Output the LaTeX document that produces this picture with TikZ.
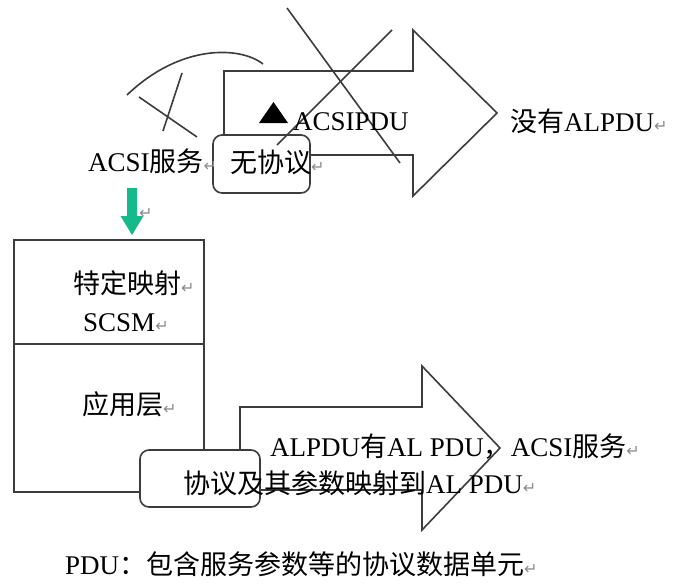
\documentclass[tikz,border=0pt]{standalone}
\usepackage{fontspec}
\setmainfont{Liberation Serif}
\newfontfamily\cjk{Noto Sans CJK SC}
\newfontfamily\dejavu{DejaVu Sans}
\newcommand\zh[1]{{\cjk #1}}
\newcommand\pmk{{\dejavu\fontsize{16}{16}\selectfont\color{black!45}↵}}
\definecolor{lineg}{RGB}{60,60,60}
\definecolor{greenarrow}{RGB}{22,186,138}
\begin{document}
\begin{tikzpicture}[x=1pt,y=-1pt,
  txt/.style={anchor=west,inner sep=0pt,font=\fontsize{27}{30}\selectfont},
  ln/.style={draw=lineg,line width=1.6pt,line join=miter},
  rbox/.style={draw=lineg,line width=1.6pt,fill=white,rounded corners=9pt}]
\useasboundingbox (0,0) rectangle (676,583);
\fill[white] (0,0) rectangle (676,583);

% --- top part ---
\draw[ln] (127,95) .. controls (180,44) and (240,46) .. (263,64);
\draw[ln] (182,73) -- (163,131);
\draw[ln] (139,97) -- (197,137);

\coordinate (tA) at (224,135);
\draw[ln] (tA) -- (224,71) -- (413,71) -- (413,30) -- (497,113) -- (413,196) -- (413,155) -- (310,155);

\draw[rbox] (213,135) rectangle (310,193);
\node[inner sep=0pt] (wxbox) at (261.5,164) {};

\draw[ln] (287,8) -- (400,163);
\draw[ln] (392,30) -- (277,145);

\fill[black] (259,123) -- (288,123) -- (273.5,102) -- cycle;
\node[txt] (acsipdu) at (293,122) {ACSIPDU};
\node[txt] (meiyou) at (510,121) {\zh{没有}ALPDU\pmk};
\node[txt] (acsi) at (88,161) {ACSI\zh{服务}\pmk};
\node[txt] (wxy) at (230,162) {\zh{无协议}\pmk};

% --- green arrow ---
\fill[greenarrow] (127,188) -- (137,188) -- (137,216) -- (143.5,216) -- (132,235) -- (120.5,216) -- (127,216) -- cycle;
\node[inner sep=0pt,anchor=west] (gmark) at (139,213) {\pmk};

% --- layer box ---
\draw[ln] (14,240) rectangle (204,492);
\draw[ln] (14,344) -- (204,344);
\node[txt] (tdys) at (73,283) {\zh{特定映射}\pmk};
\node[txt] (scsm) at (83,323) {SCSM\pmk};
\node[txt] (yyc) at (82,404) {\zh{应用层}\pmk};

% --- bottom arrow ---
\draw[ln] (240,450) -- (240,407) -- (422,407) -- (422,366) -- (500,448) -- (422,530) -- (422,490) -- (260,490);
\draw[rbox] (140,450) rectangle (260,507);
\node[inner sep=0pt] (xybox) at (200,478) {};

\node[txt] (alpdu) at (270,447) {ALPDU\zh{有}AL PDU\zh{，}ACSI\zh{服务}\pmk};
\node[txt] (xyj) at (183,483) {\zh{协议及其参数映射到}AL PDU\pmk};

\node[txt] (pdu) at (65,564) {PDU\zh{：包含服务参数等的协议数据单元}\pmk};
\end{tikzpicture}
\end{document}
